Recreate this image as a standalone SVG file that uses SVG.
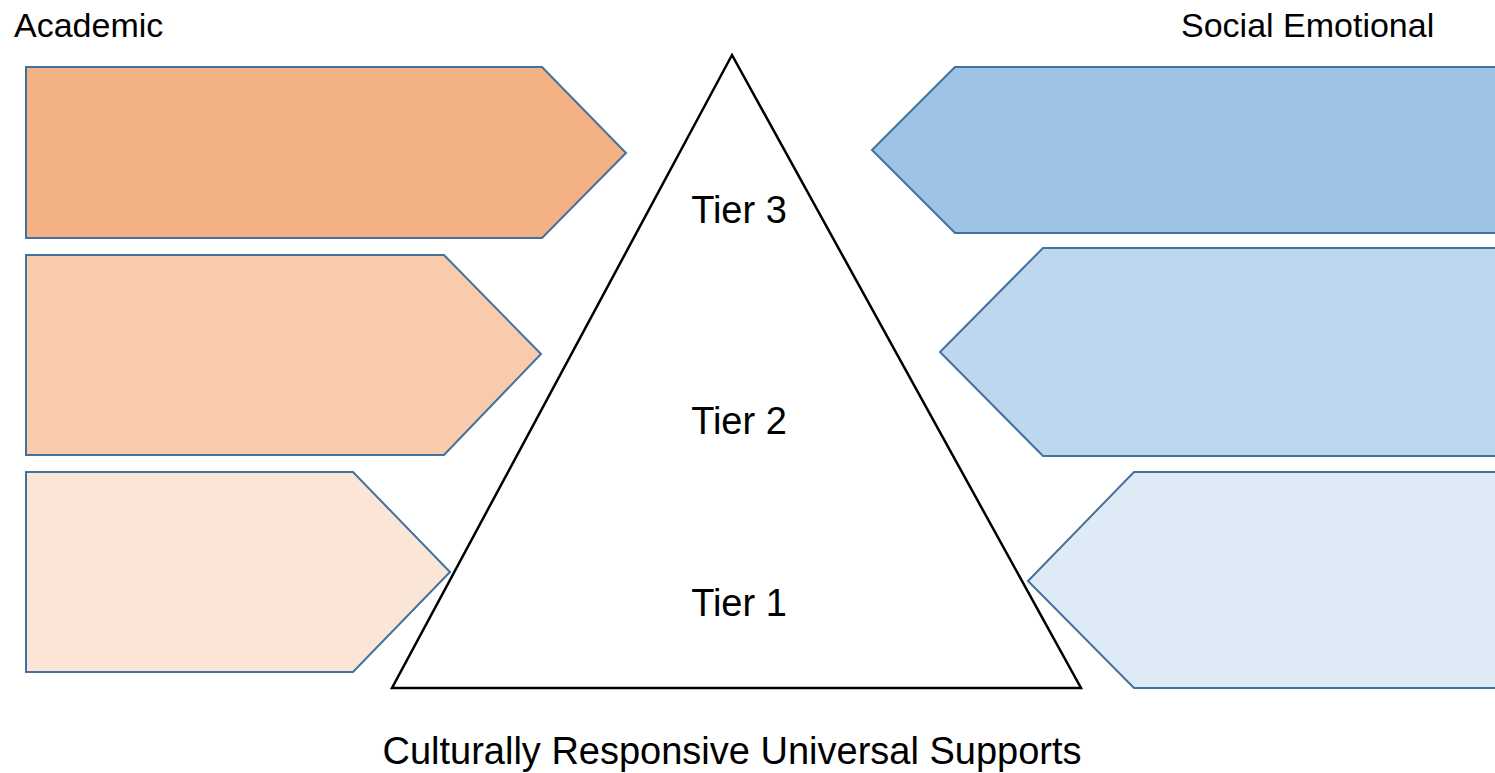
<svg xmlns="http://www.w3.org/2000/svg" width="1495" height="773" viewBox="0 0 1495 773">
<style>
.arr{stroke:#41719C;stroke-width:2;stroke-linejoin:miter}
.t{font-family:"Liberation Sans",Arial,sans-serif;fill:#000}
.tri{fill:#fff;stroke:#000;stroke-width:2.5}
</style>
<rect width="1495" height="773" fill="#fff"/>
<g id="academic-label"><text class="t" x="14" y="37" font-size="34">Academic</text></g>
<g id="social-label"><text class="t" x="1181" y="37" font-size="34">Social Emotional</text></g>
<g id="acad-1"><polygon class="arr" fill="#F4B183" points="26,67 542,67 626,153 542,238 26,238"/></g>
<g id="acad-2"><polygon class="arr" fill="#F8CBAD" points="26,255 444,255 541,354 444,455 26,455"/></g>
<g id="acad-3"><polygon class="arr" fill="#FBE5D6" points="26,472 353,472 450,572 353,672 26,672"/></g>
<g id="se-1"><polygon class="arr" fill="#9DC3E6" points="1510,67 955,67 872,150 955,233 1510,233"/></g>
<g id="se-2"><polygon class="arr" fill="#BDD7EE" points="1510,248 1043,248 940,352 1043,456 1510,456"/></g>
<g id="se-3"><polygon class="arr" fill="#DEEBF7" points="1510,472 1134,472 1028,581 1134,688 1510,688"/></g>
<g id="pyramid">
<polygon class="tri" points="732,55 1081,688 392,688"/>
<text class="t" x="739" y="223" font-size="38" text-anchor="middle">Tier 3</text>
<text class="t" x="739" y="434" font-size="38" text-anchor="middle">Tier 2</text>
<text class="t" x="739" y="616" font-size="38" text-anchor="middle">Tier 1</text>
</g>
<g id="base-label"><text class="t" x="732" y="764" font-size="38" text-anchor="middle">Culturally Responsive Universal Supports</text></g>
<g id="connectors"></g>
</svg>
